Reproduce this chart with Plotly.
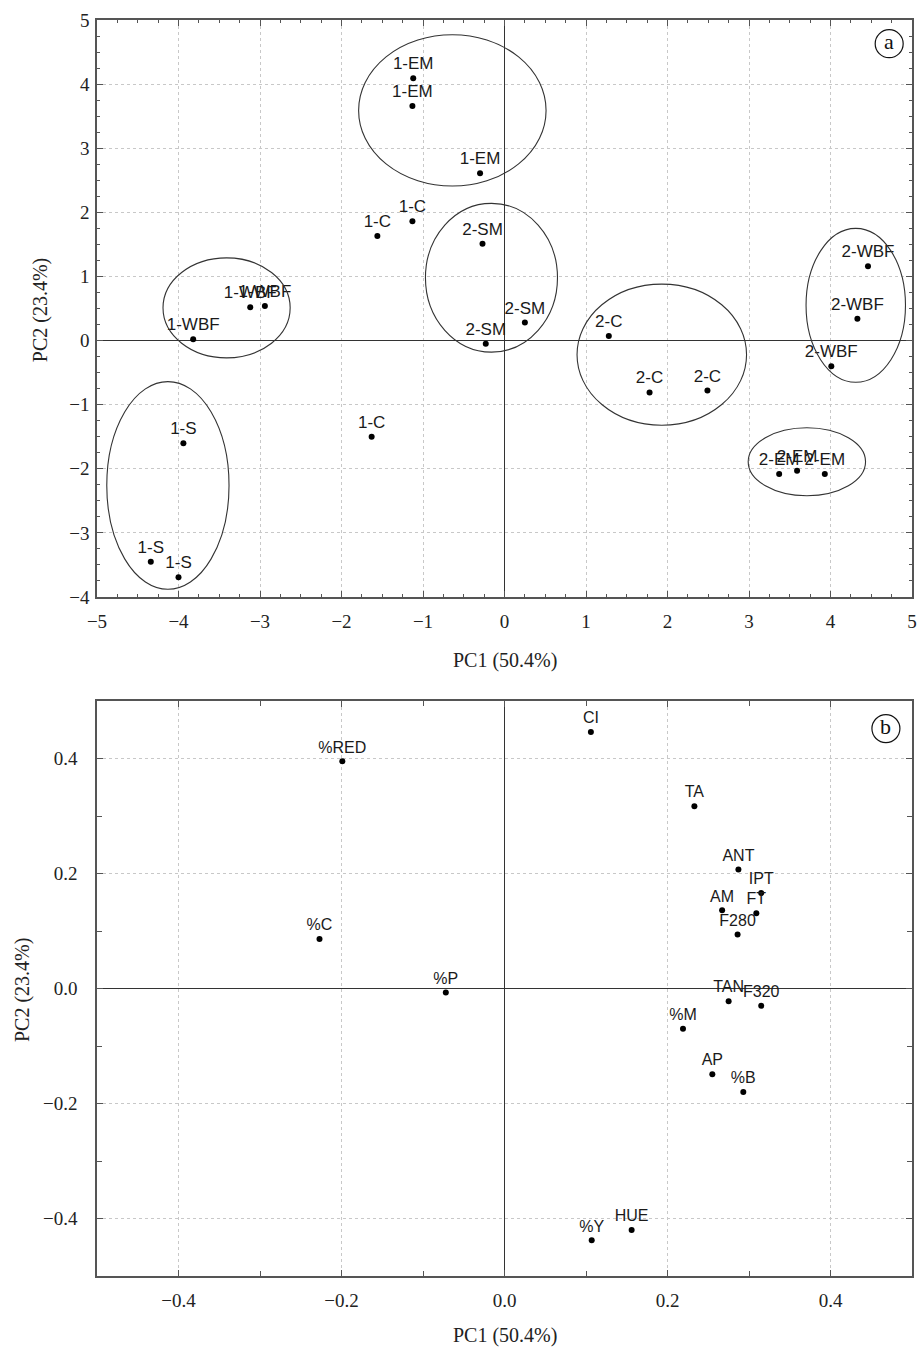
import plotly.graph_objects as go

# ---------------- Panel (a): scores ----------------
score_labels = ["1-EM", "1-EM", "1-EM", "1-C", "1-C", "1-C",
                "1-WBF", "1-WBF", "1-WBF", "1-S", "1-S", "1-S",
                "2-SM", "2-SM", "2-SM", "2-C", "2-C", "2-C",
                "2-WBF", "2-WBF", "2-WBF", "2-EM", "2-EM", "2-EM"]
score_pc1 = [-1.12, -1.13, -0.30, -1.13, -1.56, -1.63,
             -3.12, -2.94, -3.82, -3.94, -4.34, -4.00,
             -0.27, 0.25, -0.23, 1.28, 1.78, 2.49,
             4.46, 4.33, 4.01, 3.37, 3.59, 3.93]
score_pc2 = [4.09, 3.66, 2.61, 1.86, 1.63, -1.50,
             0.52, 0.54, 0.02, -1.60, -3.45, -3.69,
             1.51, 0.28, -0.05, 0.07, -0.81, -0.78,
             1.16, 0.34, -0.40, -2.08, -2.03, -2.08]

# group ellipses: centre x, centre y, radius x, radius y
ell_cx = [-0.64, -0.16, -3.41, -4.13, 1.93, 4.31, 3.71]
ell_cy = [3.59, 0.98, 0.51, -2.26, -0.22, 0.55, -1.89]
ell_rx = [1.15, 0.81, 0.78, 0.75, 1.04, 0.61, 0.72]
ell_ry = [1.18, 1.16, 0.78, 1.62, 1.10, 1.20, 0.53]

# ---------------- Panel (b): loadings ----------------
load_labels = ["%RED", "%C", "%P", "CI", "TA", "ANT", "IPT", "AM", "FT", "F280",
               "TAN", "F320", "%M", "AP", "%B", "HUE", "%Y"]
load_pc1 = [-0.199, -0.227, -0.072, 0.106, 0.233, 0.287, 0.315, 0.267, 0.309, 0.286,
            0.275, 0.315, 0.219, 0.255, 0.293, 0.156, 0.107]
load_pc2 = [0.395, 0.086, -0.007, 0.446, 0.317, 0.207, 0.166, 0.136, 0.131, 0.094,
            -0.022, -0.030, -0.070, -0.149, -0.180, -0.420, -0.438]

x_title = "PC1 (50.4%)"
y_title = "PC2 (23.4%)"

LABEL_FONT = dict(family="Liberation Sans, Arial, sans-serif", size=17, color="#1a1a1a")
TICK_FONT = dict(family="Liberation Serif, Times New Roman, serif", size=19, color="#222")
TITLE_FONT = dict(family="Liberation Serif, Times New Roman, serif", size=20, color="#222")

fig = go.Figure()

fig.add_trace(go.Scatter(
    x=score_pc1, y=score_pc2, mode="markers+text", text=score_labels,
    textposition="top center", textfont=LABEL_FONT,
    marker=dict(color="black", size=6), xaxis="x", yaxis="y",
    showlegend=False, cliponaxis=False))

fig.add_trace(go.Scatter(
    x=load_pc1, y=load_pc2, mode="markers+text", text=load_labels,
    textposition="top center", textfont=dict(LABEL_FONT, size=16),
    marker=dict(color="black", size=6), xaxis="x2", yaxis="y2",
    showlegend=False, cliponaxis=False))

for cx, cy, rx, ry in zip(ell_cx, ell_cy, ell_rx, ell_ry):
    fig.add_shape(type="circle", xref="x", yref="y",
                  x0=cx - rx, x1=cx + rx, y0=cy - ry, y1=cy + ry,
                  line=dict(color="#333", width=1.1))

# panel badges
for xr, yr, xa, ya, letter in [("x", "y", 4.72, 4.63, "a"), ("x2", "y2", 0.468, 0.452, "b")]:
    fig.add_shape(type="circle", xref=xr, yref=yr, xsizemode="pixel", ysizemode="pixel",
                  xanchor=xa, yanchor=ya, x0=-14, x1=14, y0=-14, y1=14,
                  line=dict(color="#111", width=1.2))
    fig.add_annotation(xref=xr, yref=yr, x=xa, y=ya, text=letter, showarrow=False,
                       font=dict(family="Liberation Serif, serif", size=22, color="#111"),
                       yshift=2)

# axis titles
for x, y, txt, ang in [(0.5006, 0.4904, x_title, 0), (0.5006, -0.047, x_title, 0),
                       (-0.0699, 0.769, y_title, -90), (-0.092, 0.2277, y_title, -90)]:
    fig.add_annotation(xref="paper", yref="paper", x=x, y=y, text=txt, textangle=ang,
                       showarrow=False, font=TITLE_FONT, xanchor="center", yanchor="middle")

axis_common = dict(
    showline=True, linecolor="#555", linewidth=1.5, mirror="ticks",
    ticks="inside", ticklen=6, tickcolor="#555",
    showgrid=True, gridcolor="#c8c8c8", griddash="dot", gridwidth=1,
    zeroline=True, zerolinecolor="#333", zerolinewidth=1.2,
    tickfont=TICK_FONT, automargin=False, ticklabeloverflow="allow",
)

fig.update_layout(
    width=917, height=1347,
    margin=dict(l=97, r=5, t=20, b=71),
    paper_bgcolor="white", plot_bgcolor="white",
    xaxis=dict(axis_common, domain=[0, 1], anchor="y", range=[-5, 5], dtick=1,
               ticklabelstandoff=6,
               minor=dict(dtick=0.25, ticks="inside", ticklen=3, tickcolor="#555", showgrid=False)),
    yaxis=dict(axis_common, domain=[0.5406, 1], anchor="x", range=[-4, 5], dtick=1,
               ticklabelstandoff=2,
               minor=dict(dtick=0.25, ticks="inside", ticklen=3, tickcolor="#555", showgrid=False)),
    xaxis2=dict(axis_common, domain=[0, 1], anchor="y2", range=[-0.5, 0.5], dtick=0.2,
                tick0=0, tickformat=".1f", ticklabelstandoff=6,
                minor=dict(dtick=0.1, ticks="inside", ticklen=5, tickcolor="#555", showgrid=False)),
    yaxis2=dict(axis_common, domain=[0, 0.4578], anchor="x2", range=[-0.5, 0.5], dtick=0.2,
                tick0=0, tickformat=".1f", ticklabelstandoff=14,
                minor=dict(dtick=0.1, ticks="inside", ticklen=5, tickcolor="#555", showgrid=False)),
)

fig.write_html(
    "out.html",
    config={"displayModeBar": False},
    post_script=("document.body.style.margin='0';"
                 "document.body.style.overflow='hidden';"
                 "document.documentElement.style.overflow='hidden';"),
)
